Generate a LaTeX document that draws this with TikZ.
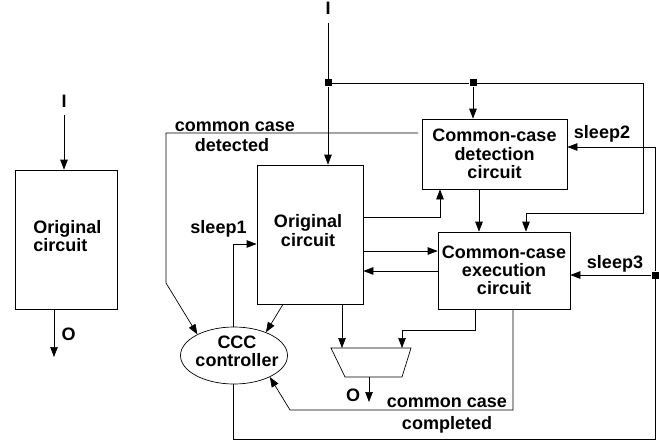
\documentclass[tikz,border=0pt]{standalone}
\usepackage{fontspec}
\setmainfont{Liberation Sans}
\usetikzlibrary{arrows.meta,shapes.geometric}
\begin{document}
\begin{tikzpicture}[x=1pt,y=-1pt,
  line width=0.7pt,
  every node/.style={font=\fontsize{18}{18.3}\selectfont\bfseries, inner sep=0pt},
  arr/.style={-{Triangle[length=10pt,width=7.5pt]}},
  junc/.style={fill, rectangle, minimum size=7pt, inner sep=0pt},
  blk/.style={draw, rectangle, align=center},
]
\useasboundingbox (0,0) rectangle (659,444);

% ---------- left: plain original circuit ----------
\node[blk, minimum width=102pt, minimum height=139pt] (lbox) at (66,239.5) {};
\node[anchor=west, align=left] (lboxt) at (33,236) {Original\\circuit};
\node[anchor=base] (lI) at (64,107) {I};
\coordinate (lIs) at (64,115);
\draw[arr] (lIs) -- (lIs |- lbox.north);
\coordinate (lOe) at (54,357);
\draw[arr] (lOe |- lbox.south) -- (lOe);
\node[anchor=base] (lO) at (68.5,340) {O};

% ---------- right: blocks ----------
\node[blk, minimum width=106pt, minimum height=139pt] (orig) at (310,234.5) {};
\node[align=center] (origt) at (308,230.5) {Original\\circuit};
\node[blk, minimum width=145pt, minimum height=70pt] (det) at (494.5,154) {Common-case\\detection\\circuit};
\node[blk, minimum width=132pt, minimum height=77pt] (exe) at (504,270.5) {Common-case\\execution\\circuit};
\node[draw, ellipse, minimum width=107pt, minimum height=57pt] (ccc) at (234,355.5) {};
\node[align=center] (ccct) at (237,351.5) {CCC\\controller};

% multiplexer
\coordinate (m1) at (331,348);
\coordinate (m2) at (411,348);
\coordinate (m3) at (402,377);
\coordinate (m4) at (345,377);
\draw (m1) -- (m2) -- (m3) -- (m4) -- cycle;

% ---------- input distribution ----------
\node[anchor=base] (rI) at (328,15) {I};
\coordinate (rIs) at (328,23);
\node[junc] (j1) at (328,83) {};
\node[junc] (j2) at (473,83) {};
\coordinate (c1) at (643,83);
\coordinate (c2) at (643,213);
\coordinate (c3) at (526,213);
\draw (rIs) -- (j1);
\draw[arr] (j1) -- (j1 |- orig.north);
\draw (j1) -- (j2) -- (c1) -- (c2) -- (c3);
\draw[arr] (c3) -- (c3 |- exe.north);
\draw[arr] (j2) -- (j2 |- det.north);

% detection -> execution
\coordinate (dx) at (479,200);
\draw[arr] (dx |- det.south) -- (dx |- exe.north);

% original <-> detection / execution
\coordinate (od) at (440,217);
\draw[arr] (orig.east |- od) -- (od) -- (od |- det.south);
\coordinate (oe) at (400,251);
\draw[arr] (orig.east |- oe) -- (exe.west |- oe);
\coordinate (eo) at (400,271);
\draw[arr] (exe.west |- eo) -- (orig.east |- eo);

% sleep rail on the right
\coordinate (s2) at (655,147);
\node[junc] (j3) at (655,275) {};
\coordinate (r4) at (655,439);
\coordinate (r5) at (233,439);
\draw[arr] (s2) -- (det.east |- s2);
\draw (s2) -- (j3) -- (r4) -- (r5) -- (r5 |- ccc.south);
\draw[arr] (j3) -- (exe.east |- j3);

% sleep1
\coordinate (s1) at (233,244);
\draw[arr] (s1 |- ccc.north) -- (s1) -- (orig.west |- s1);

% common case detected
\coordinate (cd1) at (418,133);
\coordinate (cd2) at (166,133);
\coordinate (cd3) at (166,283);
\draw[arr] (cd1) -- (cd2) -- (cd3) -- (ccc.150);

% original -> controller, original -> mux
\coordinate (oc) at (283,300);
\draw[arr] (oc |- orig.south) -- (ccc.36);
\coordinate (om) at (342,320);
\draw[arr] (om |- orig.south) -- (om |- m1);

% execution -> mux
\coordinate (em1) at (475,330);
\coordinate (em2) at (402,330);
\draw[arr] (em1 |- exe.south) -- (em1) -- (em2) -- (em2 |- m2);

% mux output
\coordinate (mb) at (369,377);
\coordinate (mo) at (369,402);
\draw[arr] (mb) -- (mo);
\node[anchor=base] (rO) at (353,401) {O};

% common case completed
\coordinate (cc1) at (513,410);
\coordinate (cc2) at (290,410);
\draw[arr] (cc1 |- exe.south) -- (cc1) -- (cc2) -- (ccc.-31);

% labels
\node[anchor=base] (lcc1) at (235,131) {common case};
\node[anchor=base] (lcc2) at (232,151) {detected};
\node[anchor=base] (ls1) at (218.5,233) {sleep1};
\node[anchor=base] (ls2) at (602,139) {sleep2};
\node[anchor=base] (ls3) at (615,268) {sleep3};
\node[anchor=base] (lcp1) at (447,407) {common case};
\node[anchor=base] (lcp2) at (447,429) {completed};
\end{tikzpicture}
\end{document}
